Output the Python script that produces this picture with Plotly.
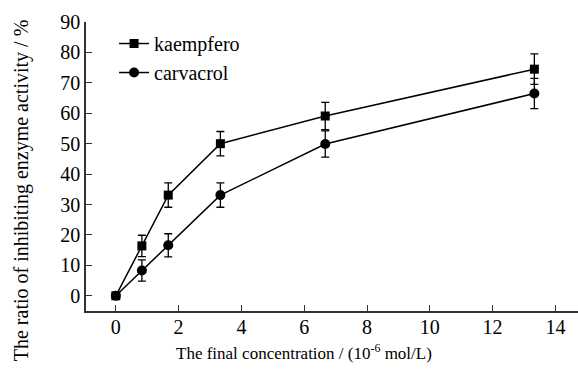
import plotly.graph_objects as go

concentration = [0, 0.83, 1.67, 3.33, 6.67, 13.33]
kaempfero = [0, 16.4, 33.1, 50.0, 59.1, 74.5]
kaempfero_err = [0, 3.5, 4.0, 4.0, 4.5, 5.0]
carvacrol = [0, 8.3, 16.6, 33.1, 49.9, 66.5]
carvacrol_err = [0, 3.5, 3.8, 4.0, 4.3, 5.0]
x_ticks = [0, 2, 4, 6, 8, 10, 12, 14]
y_ticks = [0, 10, 20, 30, 40, 50, 60, 70, 80, 90]
x_title = "The final concentration / (10<sup>-6</sup> mol/L)"
y_title = "The ratio of inhibiting enzyme activity / %"

FONT = "Liberation Serif"

fig = go.Figure()
fig.add_trace(go.Scatter(
    x=concentration, y=kaempfero, name="kaempfero", mode="lines+markers",
    line=dict(color="black", width=1.5),
    marker=dict(symbol="square", size=9, color="black"),
    error_y=dict(type="data", array=kaempfero_err, color="black", thickness=1.3, width=4),
))
fig.add_trace(go.Scatter(
    x=concentration, y=carvacrol, name="carvacrol", mode="lines+markers",
    line=dict(color="black", width=1.5),
    marker=dict(symbol="circle", size=10, color="black"),
    error_y=dict(type="data", array=carvacrol_err, color="black", thickness=1.3, width=4),
))

fig.update_layout(
    width=578, height=372,
    margin=dict(l=86, r=0, t=22, b=61),
    paper_bgcolor="white", plot_bgcolor="white",
    font=dict(family=FONT, color="black", size=20),
    showlegend=True,
    legend=dict(x=0.057, y=0.993, xanchor="left", yanchor="top",
                bgcolor="rgba(0,0,0,0)", font=dict(size=20, family=FONT),
                itemwidth=30, tracegroupgap=0),
    annotations=[
        dict(text=x_title, xref="paper", yref="paper", x=0.443, y=-0.142,
             xanchor="center", yanchor="middle", showarrow=False,
             font=dict(size=17, family=FONT, color="black")),
        dict(text=y_title, xref="paper", yref="paper", x=-0.132, y=0.418,
             xanchor="center", yanchor="middle", showarrow=False, textangle=-90,
             font=dict(size=20, family=FONT, color="black")),
    ],
)
fig.update_xaxes(
    range=[-0.95, 14.72], tickvals=x_ticks, ticks="inside", ticklen=6,
    tickwidth=1.3, tickcolor="#333", showline=True, linecolor="#333", linewidth=1.5,
    showgrid=False, zeroline=False, tickfont=dict(size=20, family=FONT),
    ticklabelstandoff=-3,
)
fig.update_yaxes(
    range=[-5, 90], tickvals=y_ticks, ticks="inside", ticklen=6,
    tickwidth=1.3, tickcolor="#333", showline=True, linecolor="#333", linewidth=1.5,
    showgrid=False, zeroline=False, tickfont=dict(size=20, family=FONT),
)

fig.write_html("out.html", config={"displayModeBar": False},
               post_script="document.body.style.margin='0';")
